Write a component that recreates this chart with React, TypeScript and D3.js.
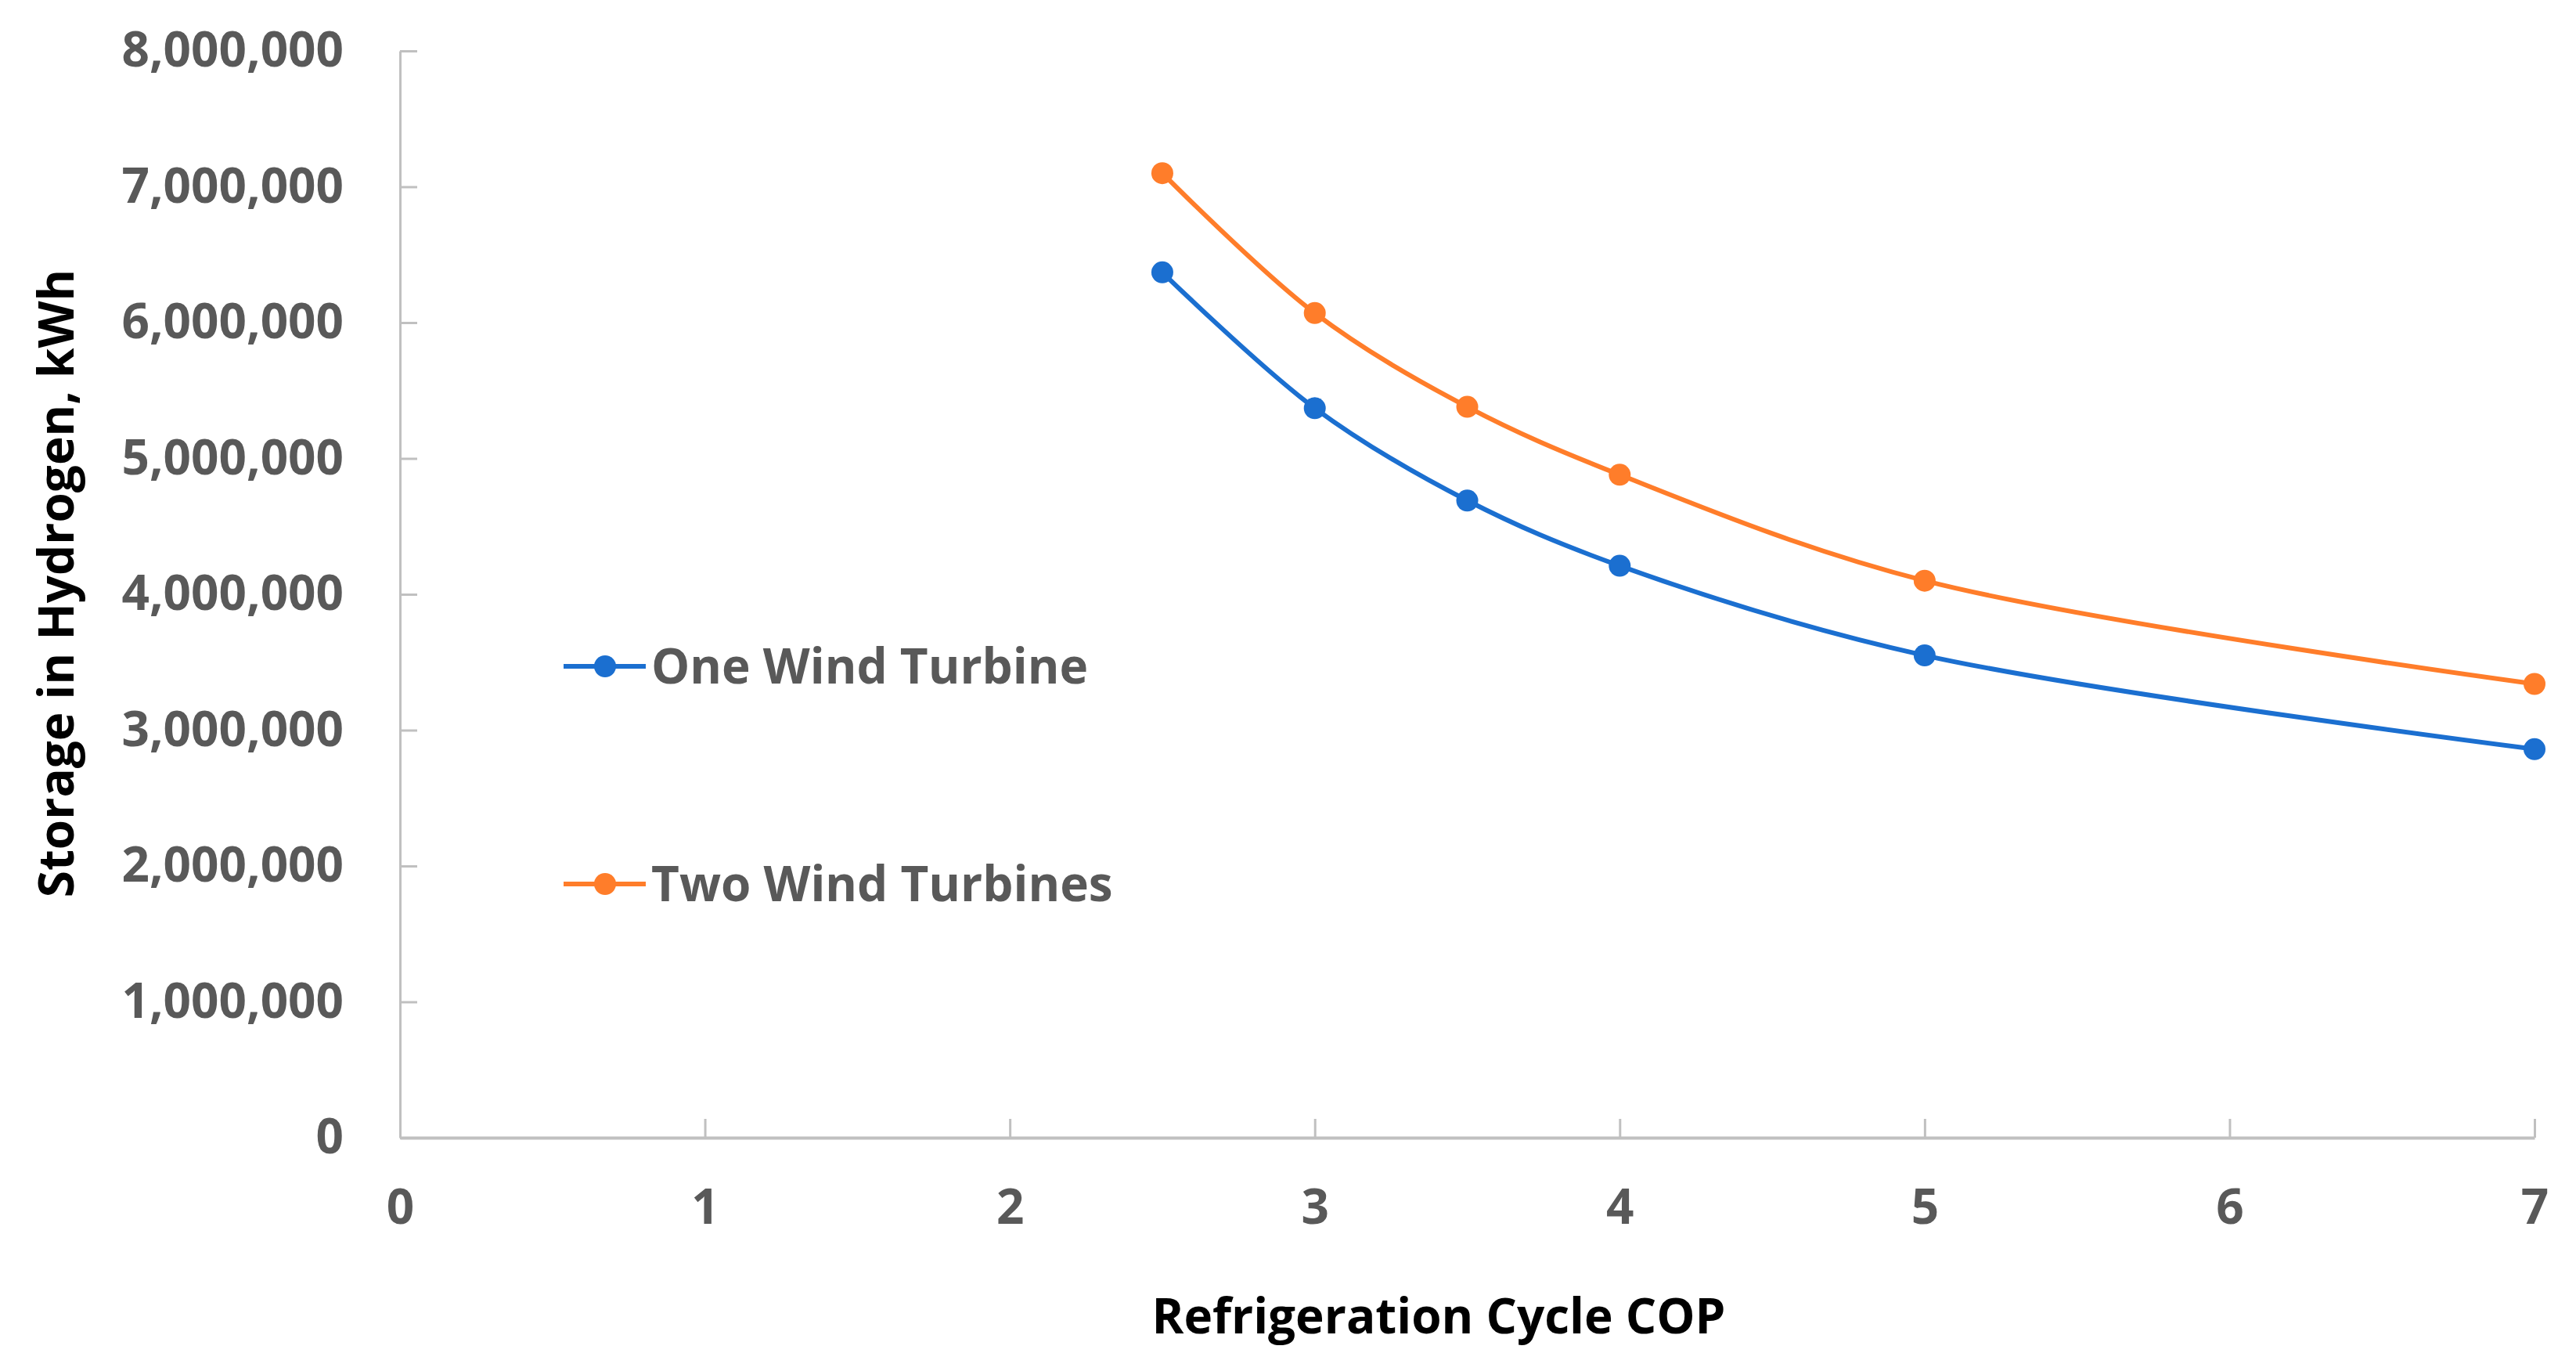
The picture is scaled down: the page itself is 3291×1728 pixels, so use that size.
import * as d3 from "d3";
import React, { useEffect, useRef } from "react";

// Refrigeration cycle COP values (x) and stored energy in kWh (y)
const cop = [2.5, 3, 3.5, 4, 5, 7];
const oneTurbine = [6370000, 5370000, 4690000, 4210000, 3550000, 2860000];
const twoTurbines = [7100000, 6070000, 5380000, 4880000, 4100000, 3340000];

const seriesNames = ["One Wind Turbine", "Two Wind Turbines"];
const seriesColors = ["#1b6fd0", "#ff7d2a"];

const xTicks = [0, 1, 2, 3, 4, 5, 6, 7];
const yTicks = [0, 1000000, 2000000, 3000000, 4000000, 5000000, 6000000, 7000000, 8000000];

const W = 3291;
const H = 1728;
const FONT = "'Open Sans', 'Noto Sans', sans-serif";

export default function App() {
  const svgRef = useRef<SVGSVGElement | null>(null);

  useEffect(() => {
    document.body.style.margin = "0";
    const svg = d3.select(svgRef.current);
    svg.selectAll("*").remove();

    const x = d3.scaleLinear().domain([0, 7]).range([511, 3238]);
    const y = d3.scaleLinear().domain([0, 8000000]).range([1453, 65]);

    svg.append("rect").attr("width", W).attr("height", H).attr("fill", "#fff");

    // y axis
    const yAxis = svg
      .append("g")
      .attr("transform", `translate(${x(0)},0)`)
      .call(
        d3
          .axisLeft(y)
          .tickValues(yTicks)
          .tickFormat(d3.format(","))
          .tickSizeInner(-22)
          .tickSizeOuter(0)
          .tickPadding(72)
      );
    yAxis.select(".domain").attr("stroke", "#c0c0c0").attr("stroke-width", 3);
    yAxis.selectAll(".tick line").attr("stroke", "#c0c0c0").attr("stroke-width", 3);
    yAxis
      .selectAll(".tick text")
      .attr("fill", "#595959")
      .attr("font-family", FONT)
      .attr("font-weight", 700)
      .attr("font-size", 62);

    // x axis
    const xAxis = svg
      .append("g")
      .attr("transform", `translate(0,${y(0)})`)
      .call(
        d3
          .axisBottom(x)
          .tickValues(xTicks)
          .tickFormat(d3.format("d"))
          .tickSizeInner(-24)
          .tickSizeOuter(0)
          .tickPadding(66)
      );
    xAxis.select(".domain").attr("stroke", "#c0c0c0").attr("stroke-width", 4);
    xAxis.selectAll(".tick line").attr("stroke", "#c0c0c0").attr("stroke-width", 3);
    xAxis
      .selectAll(".tick text")
      .attr("fill", "#595959")
      .attr("font-family", FONT)
      .attr("font-weight", 700)
      .attr("font-size", 62);

    // axis titles
    svg
      .append("text")
      .attr("x", 1838)
      .attr("y", 1703)
      .attr("text-anchor", "middle")
      .attr("font-family", FONT)
      .attr("font-weight", 700)
      .attr("font-size", 62)
      .attr("fill", "#000")
      .text("Refrigeration Cycle COP");

    svg
      .append("text")
      .attr("transform", `translate(94,745) rotate(-90)`)
      .attr("text-anchor", "middle")
      .attr("font-family", FONT)
      .attr("font-weight", 700)
      .attr("font-size", 62)
      .attr("fill", "#000")
      .text("Storage in Hydrogen, kWh");

    // series
    const line = d3
      .line<number>()
      .x((_, i) => x(cop[i]))
      .y((d) => y(d))
      .curve(d3.curveCatmullRom.alpha(0.5));

    [oneTurbine, twoTurbines].forEach((vals, s) => {
      const g = svg.append("g");
      g.append("path")
        .attr("d", line(vals))
        .attr("fill", "none")
        .attr("stroke", seriesColors[s])
        .attr("stroke-width", 6);
      g.selectAll("circle")
        .data(vals)
        .enter()
        .append("circle")
        .attr("cx", (_, i) => x(cop[i]))
        .attr("cy", (d) => y(d))
        .attr("r", 14)
        .attr("fill", seriesColors[s]);
    });

    // legend
    const legendY = [851, 1129];
    seriesNames.forEach((name, s) => {
      const g = svg.append("g").attr("transform", `translate(720,${legendY[s]})`);
      g.append("line")
        .attr("x1", 0)
        .attr("x2", 105)
        .attr("stroke", seriesColors[s])
        .attr("stroke-width", 6);
      g.append("circle").attr("cx", 53).attr("r", 14).attr("fill", seriesColors[s]);
      g.append("text")
        .attr("x", 112)
        .attr("dy", "0.36em")
        .attr("font-family", FONT)
        .attr("font-weight", 700)
        .attr("font-size", 62)
        .attr("fill", "#595959")
        .text(name);
    });
  }, []);

  return <svg ref={svgRef} width={W} height={H} style={{ display: "block" }} />;
}
